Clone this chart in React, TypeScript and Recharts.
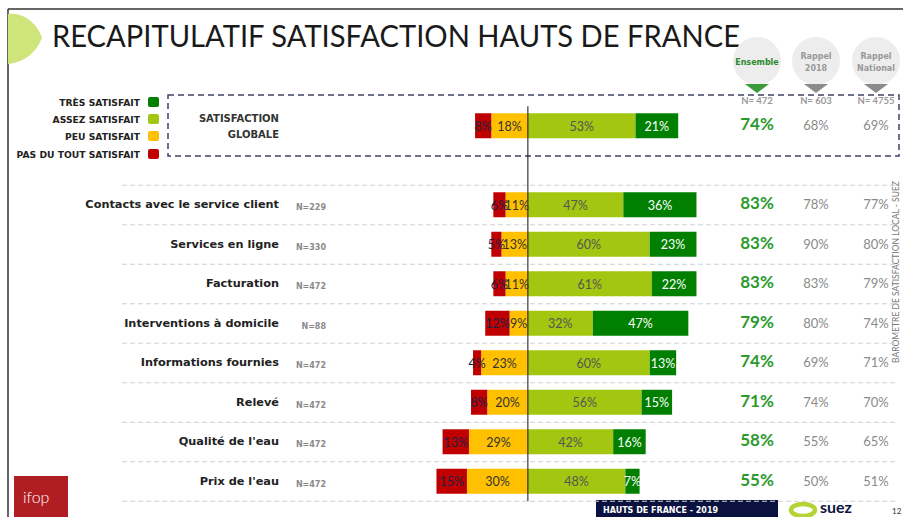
import { BarChart, Bar, XAxis, YAxis, ReferenceLine, LabelList } from 'recharts';

const categories = [
  'SATISFACTION GLOBALE',
  '',
  'Contacts avec le service client',
  'Services en ligne',
  'Facturation',
  'Interventions à domicile',
  'Informations fournies',
  'Relevé',
  "Qualité de l'eau",
  "Prix de l'eau",
];
const sampleSizes = ['', '', 'N=229', 'N=330', 'N=472', 'N=88', 'N=472', 'N=472', 'N=472', 'N=472'];

const pasDuTout = [8, null, 6, 5, 6, 12, 4, 8, 13, 15];
const peu = [18, null, 11, 13, 11, 9, 23, 20, 29, 30];
const assez = [53, null, 47, 60, 61, 32, 60, 56, 42, 48];
const tres = [21, null, 36, 23, 22, 47, 13, 15, 16, 7];

const ensemble = [74, null, 83, 83, 83, 79, 74, 71, 58, 55];
const rappel2018 = [68, null, 78, 90, 83, 80, 69, 74, 55, 50];
const rappelNational = [69, null, 77, 80, 79, 74, 71, 70, 65, 51];

const columnTitles = [['Ensemble'], ['Rappel', '2018'], ['Rappel', 'National']];
const columnN = ['N= 472', 'N= 603', 'N= 4755'];

const legendItems = ['TRÈS SATISFAIT', 'ASSEZ SATISFAIT', 'PEU SATISFAIT', 'PAS DU TOUT SATISFAIT'];

const RED = '#C00000';
const YELLOW = '#FFC000';
const LIGHT = '#A3C610';
const DARK = '#007F00';
const legendColors = [DARK, LIGHT, YELLOW, RED];

const W = 903;
const H = 517;
const TOP = 106.25;
const BOTTOM = 15.75;
const BAND = (H - TOP - BOTTOM) / categories.length;
const COLS = [757, 816, 876];
const FONT = 'Lato, "DejaVu Sans", sans-serif';
const BOLD_FONT = '"DejaVu Sans", sans-serif';

const data = categories.map((name, i) => ({
  name,
  pasDuTout: pasDuTout[i],
  peu: peu[i],
  assez: assez[i],
  tres: tres[i],
  pasDuToutNeg: pasDuTout[i] == null ? null : -(pasDuTout[i] as number),
  peuNeg: peu[i] == null ? null : -(peu[i] as number),
}));

function RowTick(props: any) {
  const { y, payload } = props;
  const i: number = props.index ?? payload.index;
  if (i === 1) return null;
  const values = [ensemble[i], rappel2018[i], rappelNational[i]];
  return (
    <g fontFamily={FONT}>
      {i === 0 ? (
        <>
          <text x={279} y={y - 4} textAnchor="end" fontFamily={BOLD_FONT} fontSize={10} fontWeight={700} fill="#333">SATISFACTION</text>
          <text x={279} y={y + 12} textAnchor="end" fontFamily={BOLD_FONT} fontSize={10} fontWeight={700} fill="#333">GLOBALE</text>
        </>
      ) : (
        <>
          <line x1={122} x2={898} y1={y - BAND / 2} y2={y - BAND / 2} stroke="#d0d0d0" strokeDasharray="5 3" />
          {i === categories.length - 1 && (
            <line x1={122} x2={898} y1={y + BAND / 2} y2={y + BAND / 2} stroke="#d0d0d0" strokeDasharray="5 3" />
          )}
          <text x={279} y={y + 3} textAnchor="end" fontFamily={BOLD_FONT} fontSize={11.3} fontWeight={700} fill="#222">{payload.value}</text>
          <text x={326} y={y + 5} textAnchor="end" fontFamily={BOLD_FONT} fontSize={8} fontWeight={700} fill="#8a8a8a">{sampleSizes[i]}</text>
        </>
      )}
      <text x={COLS[0]} y={y + 4} textAnchor="middle" fontSize={17} fontWeight={700} fill="#2C9A2C">{values[0]}%</text>
      <text x={COLS[1]} y={y + 4} textAnchor="middle" fontSize={13} fill="#8a8a8a">{values[1]}%</text>
      <text x={COLS[2]} y={y + 4} textAnchor="middle" fontSize={13} fill="#8a8a8a">{values[2]}%</text>
    </g>
  );
}

function segmentLabel(color: string) {
  return (props: any) => {
    const { x, y, width, height, value } = props;
    if (value == null) return null;
    return (
      <text
        x={x + width / 2}
        y={y + height / 2 + 5}
        textAnchor="middle"
        fontFamily={FONT}
        fontSize={12.5}
        fill={color}
      >
        {Math.abs(value)}%
      </text>
    );
  };
}

function Decorations() {
  return (
    <svg width={W} height={H} style={{ position: 'absolute', left: 0, top: 0 }} fontFamily={FONT}>
      <rect x={0} y={0} width={W} height={H} fill="#fff" />
      <line x1={8} y1={9} x2={W} y2={9} stroke="#333" strokeWidth={1.5} />
      <line x1={8} y1={9} x2={8} y2={H} stroke="#333" strokeWidth={1.5} />
      <path d="M8,14 C26,12 38,26 42,38 C36,52 26,62 8,64 Z" fill="#CFE57A" />
      <text x={52} y={47} fontSize={30} fill="#1a1a1a" textLength={688} lengthAdjust="spacingAndGlyphs">
        RECAPITULATIF SATISFACTION HAUTS DE FRANCE
      </text>

      {legendItems.map((label, k) => {
        const ly = [102, 119, 136, 154][k];
        return (
          <g key={label}>
            <text x={140} y={ly + 3.5} textAnchor="end" fontFamily={BOLD_FONT} fontSize={9.2} fontWeight={700} fill="#222">{label}</text>
            <rect x={148} y={ly - 5} width={11} height={10} rx={2} fill={legendColors[k]} />
          </g>
        );
      })}

      <rect x={168} y={95} width={731} height={61} fill="none" stroke="#3d4163" strokeWidth={1.5} strokeDasharray="6 4" />

      {columnTitles.map((lines, k) => (
        <g key={k}>
          <circle cx={COLS[k]} cy={61} r={24} fill="#ededed" />
          <polygon
            points={`${COLS[k] - 12},84 ${COLS[k] + 12},84 ${COLS[k]},93`}
            fill={k === 0 ? '#3A9A3A' : '#8a8a8a'}
          />
          {lines.map((t, j) => (
            <text
              key={t}
              x={COLS[k]}
              y={lines.length === 1 ? 65 : 59 + j * 12}
              textAnchor="middle"
              fontFamily={BOLD_FONT}
              fontSize={8}
              fontWeight={700}
              fill={k === 0 ? '#2C8A2C' : '#999'}
            >
              {t}
            </text>
          ))}
          <text x={COLS[k]} y={104} textAnchor="middle" fontSize={9.5} fontWeight={700} fill="#999">{columnN[k]}</text>
        </g>
      ))}

      <text
        transform="translate(899,363) rotate(-90)"
        fontSize={8.5}
        fill="#777"
      >
        BAROMETRE DE SATISFACTION LOCAL - SUEZ
      </text>

      <rect x={14} y={476} width={54} height={41} fill="#B01E23" />
      <text x={23} y={503} fontSize={16} fontWeight={300} fill="#fff">ifop</text>

      <rect x={596} y={500} width={182} height={17} fill="#0B1240" />
      <text x={603} y={513} fontFamily={BOLD_FONT} fontSize={8} fontWeight={700} fill="#fff">HAUTS DE FRANCE - 2019</text>
      <ellipse cx={803} cy={510} rx={12} ry={6} fill="none" stroke="#B5D334" strokeWidth={4.5} />
      <text x={820} y={513} fontSize={16} fontWeight={700} fill="#0B1240">suez</text>
      <text x={892} y={514} fontSize={8} fill="#333">12</text>
    </svg>
  );
}

export default function App() {
  return (
    <div style={{ position: 'absolute', left: 0, top: 0, width: W, height: H, background: '#fff' }}>
      <Decorations />
      <div style={{ position: 'absolute', left: 0, top: 0 }}>
        <BarChart
          width={W}
          height={H}
          data={data}
          layout="vertical"
          stackOffset="sign"
          barSize={25}
          margin={{ top: TOP, right: 172, bottom: BOTTOM, left: 405 }}
        >
          <XAxis type="number" domain={[-60, 100]} hide />
          <YAxis
            type="category"
            dataKey="name"
            width={1}
            interval={0}
            axisLine={false}
            tickLine={false}
            tick={<RowTick />}
          />
          <Bar dataKey="peuNeg" stackId="s" fill={YELLOW} isAnimationActive={false}>
            <LabelList dataKey="peu" content={segmentLabel('#333')} />
          </Bar>
          <Bar dataKey="pasDuToutNeg" stackId="s" fill={RED} isAnimationActive={false}>
            <LabelList dataKey="pasDuTout" content={segmentLabel('#1c2340')} />
          </Bar>
          <Bar dataKey="assez" stackId="s" fill={LIGHT} isAnimationActive={false}>
            <LabelList dataKey="assez" content={segmentLabel('#555')} />
          </Bar>
          <Bar dataKey="tres" stackId="s" fill={DARK} isAnimationActive={false}>
            <LabelList dataKey="tres" content={segmentLabel('#fff')} />
          </Bar>
          <ReferenceLine x={0} stroke="#111" strokeWidth={1} />
        </BarChart>
      </div>
    </div>
  );
}
